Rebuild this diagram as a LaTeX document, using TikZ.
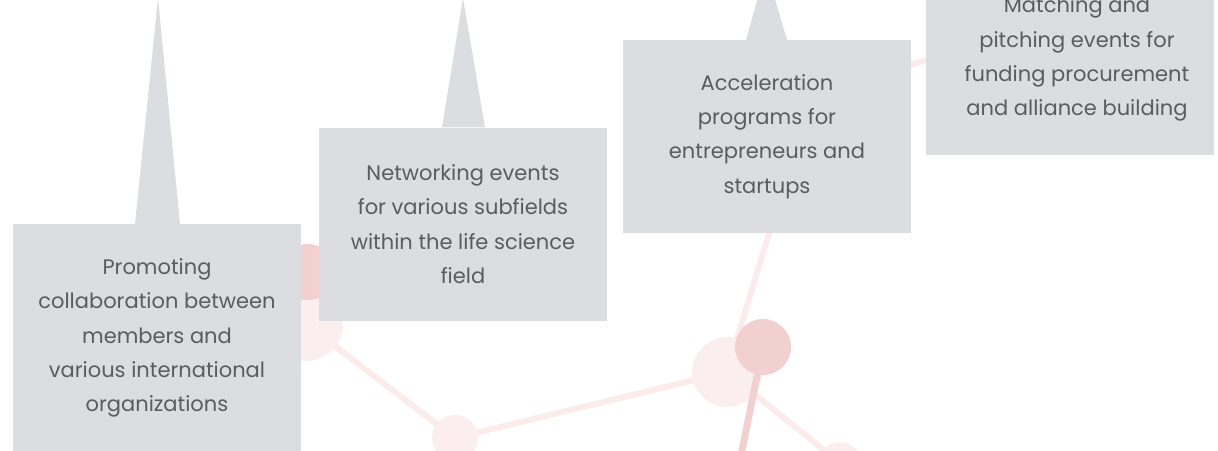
\documentclass[tikz,border=0pt]{standalone}
\usepackage{fontspec}
\setmainfont{Poppins}
\usepackage{tikz}

\definecolor{boxgray}{HTML}{DCDDE0}
\definecolor{textgray}{HTML}{5C5C5E}
\definecolor{pinklight}{HTML}{FAEEEE}
\definecolor{pinkline}{HTML}{FBEBEB}
\definecolor{pinkdark}{HTML}{F2D0D0}

\tikzset{
  infotext/.style={text=textgray, align=center, inner sep=0pt,
    font=\fontsize{21}{34.3}\selectfont},
  infobox/.style={infotext, fill=boxgray, minimum width=288pt},
  bead/.style={circle, fill=#1, inner sep=0pt},
  link/.style={line width=6pt, pinkline},
}

\begin{document}
\begin{tikzpicture}[x=1pt,y=-1pt]
\useasboundingbox (0,0) rectangle (1218,450);
\clip (0,0) rectangle (1218,450);

%% network in the background
\coordinate (nA) at (306,324);
\coordinate (nB) at (308,272);
\coordinate (nC) at (455,438);
\coordinate (nD) at (727,372);
\coordinate (nE) at (763,347);
\coordinate (nF) at (840,463);
\coordinate (nG) at (779,200);
\coordinate (nH) at (738,470);
\coordinate (nI) at (850,83);
\coordinate (nJ) at (990,41);

\draw[link] (nA) -- (nC) -- (nD);
\draw[link] (nD) -- (nF);
\draw[link] (nD) -- (nG);
\draw[link] (nI) -- (nJ);

\node[bead=pinklight, minimum size=74pt] (dotA) at (nA) {};
\node[bead=pinklight, minimum size=46pt] (dotC) at (nC) {};
\node[bead=pinklight, minimum size=70pt] (dotD) at (nD) {};
\node[bead=pinklight, minimum size=42pt] (dotF) at (nF) {};

\draw[line width=7pt, pinkdark] (nE) -- (nH);
\node[bead=pinkdark, minimum size=56pt] (dotB) at (nB) {};
\node[bead=pinkdark, minimum size=56pt] (dotE) at (nE) {};

%% boxes
\node[infobox, minimum height=228pt] (promo) at (157,338)
  {Promoting\\collaboration between\\members and\\various international\\organizations};
\node[infobox, minimum height=193pt] (network) at (463,224)
  {Networking events\\for various subfields\\within the life science\\field};
\node[infobox, minimum height=193pt] (accel) at (767,136.5)
  {Acceleration\\programs for\\entrepreneurs and\\startups};
\node[infobox, minimum height=192pt] (match) at (1070,59) {};
\node[infotext] (matchtext) at ([xshift=7pt]match.center)
  {Matching and\\pitching events for\\funding procurement\\and alliance building};

%% spikes
\fill[boxgray] ([xshift=-22pt]promo.north) -- (158,-2) -- ([xshift=23pt]promo.north) -- cycle;
\fill[boxgray] ([xshift=-21pt]network.north) -- (463,-2) -- ([xshift=22pt]network.north) -- cycle;
\fill[boxgray] ([xshift=-21pt]accel.north) -- (766,-31) -- ([xshift=20pt]accel.north) -- cycle;

\end{tikzpicture}
\end{document}
